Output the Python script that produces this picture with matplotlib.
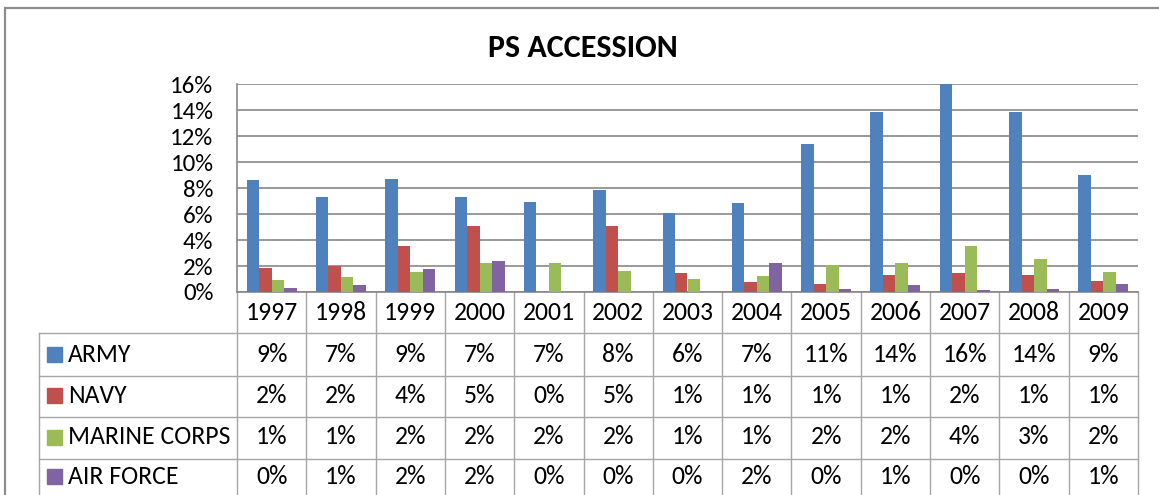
import numpy as np
import matplotlib
matplotlib.use("Agg")
import matplotlib.pyplot as plt
from matplotlib.patches import Rectangle

plt.rcParams['font.family'] = ['Carlito', 'Liberation Sans Narrow', 'Liberation Sans', 'DejaVu Sans']

years = ["1997", "1998", "1999", "2000", "2001", "2002", "2003",
         "2004", "2005", "2006", "2007", "2008", "2009"]
army = [8.63, 7.34, 8.73, 7.34, 6.96, 7.83, 6.06, 6.83, 11.40, 13.84, 16.0, 13.84, 9.01]
navy = [1.82, 2.00, 3.55, 5.08, 0.0, 5.08, 1.44, 0.75, 0.62, 1.31, 1.50, 1.31, 0.85]
marine = [0.92, 1.13, 1.54, 2.21, 2.21, 1.62, 1.03, 1.23, 2.10, 2.21, 3.55, 2.52, 1.52]
airforce = [0.33, 0.51, 1.80, 2.41, 0.0, 0.0, 0.0, 2.21, 0.23, 0.51, 0.15, 0.23, 0.64]
names = ["ARMY", "NAVY", "MARINE CORPS", "AIR FORCE"]
colors = ["#4F81BD", "#C0504D", "#9BBB59", "#8064A2"]
series = [army, navy, marine, airforce]

W, H = 1159, 495
fs = 18.5
fig = plt.figure(figsize=(W / 100, H / 100), dpi=100)

# outer chart border
fig.patches.append(Rectangle((5 / W, -0.1), 1.2, (H - 8) / H + 0.1, transform=fig.transFigure,
                             fill=False, edgecolor="#8c8c8c", lw=1.6))

ax_l, ax_r, ax_b, ax_t = 237, 1138, 292, 84.3
ax = fig.add_axes([ax_l / W, (H - ax_b) / H, (ax_r - ax_l) / W, (ax_b - ax_t) / H])

x = np.arange(len(years))
bw = 0.18
for k, (vals, c) in enumerate(zip(series, colors)):
    ax.bar(x + (k - 1.5) * bw, vals, bw, color=c, edgecolor="none", zorder=3)

ax.set_xlim(-0.5, len(years) - 0.5)
ax.set_ylim(0, 16)
ax.set_yticks(np.arange(0, 17, 2))
ax.set_yticklabels(["{0}%".format(v) for v in range(0, 17, 2)], fontsize=18)
ax.set_xticks([])
ax.tick_params(axis='y', length=0, pad=17)
ax.grid(axis='y', color="#878787", lw=1.2, zorder=0)
for s in ["top", "right"]:
    ax.spines[s].set_visible(False)
ax.spines["left"].set_color("#878787")
ax.spines["bottom"].set_color("#878787")
ax.spines["left"].set_linewidth(1.2)
ax.spines["bottom"].set_linewidth(1.2)

fig.text(583 / W, 1 - 48 / H, "PS ACCESSION", fontsize=23, fontweight="bold",
         ha="center", va="center")

# data table under the axis
ph = ax_b - ax_t
rows_px = [292, 333, 375.5, 417, 459, 510]
ry = [(ax_b - p) / ph for p in rows_px]
tr = ax.get_xaxis_transform()
lc = "#a6a6a6"
step = (ax_r - ax_l) / len(years)
xlab = -0.5 - (ax_l - 39) / step
xr = len(years) - 0.5

for i in range(len(years) + 1):
    ax.plot([i - 0.5, i - 0.5], [ry[0], ry[-1]], color=lc, lw=1, transform=tr, clip_on=False)
ax.plot([xlab, xlab], [ry[1], ry[-1]], color=lc, lw=1, transform=tr, clip_on=False)
for j in range(1, len(rows_px) - 1):
    ax.plot([xlab, xr], [ry[j], ry[j]], color=lc, lw=1, transform=tr, clip_on=False)

for i, yr in enumerate(years):
    ax.text(i, (ry[0] + ry[1]) / 2, yr, fontsize=fs, ha="center", va="center", transform=tr)

row_mid_px = [354, 396, 437, 477]
for j, (nm, vals, c) in enumerate(zip(names, series, colors)):
    yc = (ax_b - row_mid_px[j]) / ph
    ax.add_patch(Rectangle((-0.5 - (ax_l - 47) / step, yc - 7.5 / ph), 15 / step, 15 / ph,
                           transform=tr, color=c, clip_on=False))
    ax.text(-0.5 - (ax_l - 68) / step, yc, nm, fontsize=fs, ha="left", va="center", transform=tr)
    for i, v in enumerate(vals):
        ax.text(i, yc, "{0:.0f}%".format(round(v)), fontsize=fs, ha="center", va="center",
                transform=tr)

fig.savefig("out.png", dpi=100)
